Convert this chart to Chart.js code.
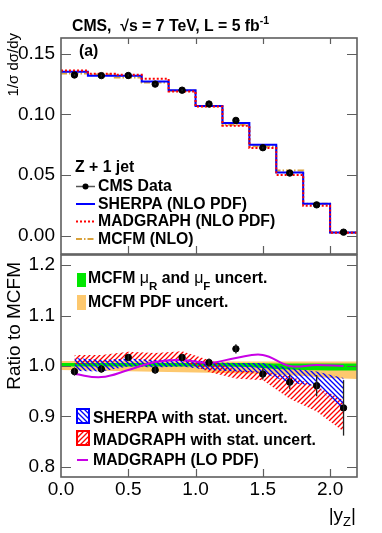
<!DOCTYPE html>
<html>
<head>
<meta charset="utf-8">
<script src="https://cdn.jsdelivr.net/npm/chart.js@4.4.1/dist/chart.umd.min.js"></script>
<style>
html, body { margin: 0; padding: 0; background: #fff; }
#wrap { position: relative; width: 382px; height: 533px; }
canvas { position: absolute; left: 0; }
#top { top: 0; }
#bot { top: 250px; }
</style>
</head>
<body>
<div id="wrap">
  <canvas id="top" width="382" height="260"></canvas>
  <canvas id="bot" width="382" height="283"></canvas>
</div>
<script>
// bins in |y_Z|
const binEdges = [0, 0.2, 0.4, 0.6, 0.8, 1.0, 1.2, 1.4, 1.6, 1.8, 2.0, 2.2];
const binCenters = [0.1, 0.3, 0.5, 0.7, 0.9, 1.1, 1.3, 1.5, 1.7, 1.9, 2.1];

// top panel: 1/sigma dsigma/dy
const cmsData  = [0.1325, 0.1320, 0.1321, 0.1250, 0.1200, 0.1086, 0.0951, 0.0726, 0.0517, 0.0255, 0.0030];
const cmsErr   = [0.0008, 0.0008, 0.0008, 0.0008, 0.0008, 0.0008, 0.0008, 0.0008, 0.0007, 0.0005, 0.0002];
const sherpa   = [0.1352, 0.1319, 0.1319, 0.1272, 0.1200, 0.1070, 0.0930, 0.0751, 0.0522, 0.0264, 0.0028];
const madgraph = [0.1362, 0.1335, 0.1327, 0.1294, 0.1190, 0.1065, 0.0907, 0.0723, 0.0502, 0.0247, 0.0026];
const mcfm     = [0.1338, 0.1330, 0.1305, 0.1264, 0.1195, 0.1068, 0.0915, 0.0737, 0.0539, 0.0264, 0.0027];
const topTicks = [0.00, 0.05, 0.10, 0.15];

// bottom panel: ratio to MCFM
const ratioData = [0.989, 0.994, 1.017, 0.992, 1.017, 1.007, 1.034, 0.984, 0.968, 0.961, 0.917];
const ratioErr  = [0.008, 0.007, 0.007, 0.007, 0.007, 0.008, 0.009, 0.011, 0.014, 0.021, 0.055];
const sherpaHi  = [1.016, 1.012, 1.015, 1.012, 1.015, 1.008, 1.006, 1.006, 0.996, 0.989, 0.976];
const sherpaLo  = [0.990, 0.989, 0.999, 0.997, 0.999, 0.992, 0.989, 0.986, 0.967, 0.960, 0.910];
const madHi     = [1.022, 1.022, 1.028, 1.026, 1.029, 1.012, 0.992, 0.988, 0.980, 0.960, 0.932];
const madLo     = [1.004, 1.006, 1.012, 1.009, 1.010, 0.988, 0.975, 0.972, 0.935, 0.910, 0.870];
const madLO     = [0.984, 0.978, 0.992, 1.008, 1.012, 1.006, 1.016, 1.022, 1.000, 1.002, 1.000];
const scaleHi   = [1.006, 1.006, 1.006, 1.006, 1.006, 1.006, 1.006, 1.006, 1.005, 1.005, 1.005, 1.005];
const scaleLo   = [0.999, 0.999, 0.999, 0.999, 0.999, 0.999, 0.999, 0.998, 0.994, 0.992, 0.991, 0.991];
const pdfHi     = [1.010, 1.010, 1.010, 1.010, 1.009, 1.009, 1.009, 1.009, 1.009, 1.009, 1.009, 1.009];
const pdfLo     = [0.992, 0.991, 0.990, 0.989, 0.988, 0.987, 0.986, 0.985, 0.983, 0.980, 0.976, 0.974];
const ratioTicks = [0.8, 0.9, 1.0, 1.1, 1.2];
const xTicks = [0, 0.5, 1.0, 1.5, 2.0];

const FONT = '"Liberation Sans", Arial, Helvetica, sans-serif';
const B15 = 'bold 15.8px ' + FONT;
const C_SHERPA = '#0000ff', C_MAD = '#ff0000', C_MCFM = '#d9a13b', C_LO = '#c800e6';
const C_GREEN = '#00e600', C_ORANGE = '#fdc86e';

function hatch(color, dir) {
  const s = 5;
  const c = document.createElement('canvas');
  c.width = s; c.height = s;
  const g = c.getContext('2d');
  g.strokeStyle = color; g.lineWidth = 1.3;
  g.beginPath();
  if (dir > 0) {
    g.moveTo(0, s); g.lineTo(s, 0);
    g.moveTo(-1, 1); g.lineTo(1, -1);
    g.moveTo(s - 1, s + 1); g.lineTo(s + 1, s - 1);
  } else {
    g.moveTo(0, 0); g.lineTo(s, s);
    g.moveTo(-1, s - 1); g.lineTo(1, s + 1);
    g.moveTo(s - 1, -1); g.lineTo(s + 1, 1);
  }
  g.stroke();
  return g.createPattern(c, 'repeat');
}
const blueHatch = hatch(C_SHERPA, -1);
const redHatch = hatch(C_MAD, 1);

function pts(xs, vals) { return vals.map((v, i) => ({x: xs[i], y: v})); }
function stepPts(vals) {
  const p = pts(binEdges, vals);
  p.push({x: binEdges[vals.length], y: vals[vals.length - 1]});
  return p;
}
function stepLine(vals, color, dash, order) {
  return {data: stepPts(vals), borderColor: color, borderWidth: 2, borderDash: dash,
          pointRadius: 0, fill: false, stepped: 'before', order: order};
}
function band(xs, hi, lo, bg, order) {
  return [
    {data: pts(xs, hi), borderColor: 'rgba(0,0,0,0)', borderWidth: 0, pointRadius: 0,
     backgroundColor: bg, fill: '+1', tension: 0, order: order},
    {data: pts(xs, lo), borderColor: 'rgba(0,0,0,0)', borderWidth: 0, pointRadius: 0,
     fill: false, tension: 0, order: order}
  ];
}

function rich(ctx, parts, x, y, align) {
  let w = 0;
  parts.forEach(p => { ctx.font = p.f; w += ctx.measureText(p.t).width; });
  let cx = align === 'right' ? x - w : x;
  ctx.textAlign = 'left'; ctx.textBaseline = 'alphabetic'; ctx.fillStyle = '#000';
  parts.forEach(p => {
    ctx.font = p.f;
    ctx.fillText(p.t, cx, y + (p.dy || 0));
    cx += ctx.measureText(p.t).width;
  });
}
function rotText(ctx, s, font, x, yEnd) {
  ctx.save();
  ctx.translate(x, yEnd);
  ctx.rotate(-Math.PI / 2);
  ctx.font = font; ctx.fillStyle = '#000';
  ctx.textAlign = 'right'; ctx.textBaseline = 'alphabetic';
  ctx.fillText(s, 0, 0);
  ctx.restore();
}

// ROOT-like frame, inward ticks, error bars, legend and labels
const rootFrame = {
  id: 'rootFrame',
  afterDatasetsDraw(chart, args, o) {
    const ctx = chart.ctx, a = chart.chartArea, x = chart.scales.x, y = chart.scales.y;
    ctx.save();
    // error bars on data
    ctx.strokeStyle = '#222'; ctx.lineWidth = 1.3;
    o.errX.forEach((xv, i) => {
      const px = x.getPixelForValue(xv);
      ctx.beginPath();
      ctx.moveTo(px, y.getPixelForValue(o.errV[i] + o.errE[i]));
      ctx.lineTo(px, y.getPixelForValue(o.errV[i] - o.errE[i]));
      ctx.stroke();
    });
    // frame
    ctx.strokeStyle = '#5e5e5e'; ctx.lineWidth = 1.6;
    ctx.strokeRect(a.left, a.top, a.right - a.left, a.bottom - a.top);
    ctx.lineWidth = 1.2;
    ctx.beginPath();
    xTicks.forEach(v => {
      const px = Math.round(x.getPixelForValue(v)) + 0.5;
      if (v <= x.min || v >= x.max) return;
      ctx.moveTo(px, a.bottom); ctx.lineTo(px, a.bottom - 8);
      if (o.topTicks) { ctx.moveTo(px, a.top); ctx.lineTo(px, a.top + 6); }
    });
    o.yTicks.forEach(v => {
      const py = Math.round(y.getPixelForValue(v)) + 0.5;
      ctx.moveTo(a.left, py); ctx.lineTo(a.left + 10, py);
      ctx.moveTo(a.right, py); ctx.lineTo(a.right - 10, py);
    });
    ctx.stroke();
    ctx.restore();
  },
  afterDraw(chart, args, o) {
    const ctx = chart.ctx;
    ctx.save();
    ctx.translate(0, -o.offsetY);
    o.draw(ctx);
    ctx.restore();
  }
};

function yScale(min, max, ticks, digits) {
  return {
    type: 'linear', min: min, max: max,
    afterBuildTicks: s => { s.ticks = ticks.map(v => ({value: v})); },
    afterFit: s => { s.width = 61; s.paddingTop = 0; s.paddingBottom = 0; },
    grid: {display: false, drawTicks: false},
    border: {display: false},
    ticks: {autoSkip: false, padding: 6, color: '#000', font: {family: FONT, size: 19},
            callback: v => Number(v).toFixed(digits)}
  };
}

const common = {
  responsive: false, animation: false, events: [],
  plugins: {legend: {display: false}, tooltip: {enabled: false}}
};

// top panel
new Chart(document.getElementById('top'), {
  type: 'line',
  data: {datasets: [
    {data: pts(binCenters, cmsData), showLine: false, pointRadius: 3.2,
     pointBackgroundColor: '#000', pointBorderColor: '#000', order: 1},
    stepLine(madgraph, C_MAD, [2, 2], 2),
    stepLine(sherpa, C_SHERPA, [], 3),
    stepLine(mcfm, C_MCFM, [6, 2, 1.5, 2], 4)
  ]},
  options: Object.assign({}, common, {
    layout: {padding: {left: 0, top: 38, right: 25, bottom: 6}},
    scales: {
      x: {type: 'linear', min: 0, max: 2.2, display: false,
          afterFit: s => { s.paddingLeft = 0; s.paddingRight = 0; }},
      y: yScale(-0.015, 0.163, topTicks, 2)
    },
    plugins: Object.assign({}, common.plugins, {
      rootFrame: {
        errX: binCenters, errV: cmsData, errE: cmsErr, yTicks: topTicks, topTicks: true, offsetY: 0,
        draw: ctx => {
          rich(ctx, [{t: 'CMS,  \u221As = 7 TeV, L = 5 fb', f: B15}, {t: '-1', f: 'bold 10.5px ' + FONT, dy: -7}], 72, 31);
          rich(ctx, [{t: '(a)', f: B15}], 79, 56);
          rotText(ctx, '1/\u03C3 d\u03C3/dy', '15px ' + FONT, 18, 33);
          rich(ctx, [{t: 'Z + 1 jet', f: B15}], 75, 172);
          const rows = [['CMS Data', 191], ['SHERPA (NLO PDF)', 208.5], ['MADGRAPH (NLO PDF)', 226], ['MCFM (NLO)', 243.5]];
          rows.forEach(r => rich(ctx, [{t: r[0], f: B15}], 98, r[1]));
          const ly = r => r[1] - 4.5;
          ctx.strokeStyle = '#555'; ctx.lineWidth = 1.5;
          ctx.beginPath(); ctx.moveTo(76, ly(rows[0])); ctx.lineTo(95, ly(rows[0])); ctx.stroke();
          ctx.fillStyle = '#000'; ctx.beginPath(); ctx.arc(85.5, ly(rows[0]), 3, 0, 2 * Math.PI); ctx.fill();
          ctx.lineWidth = 2;
          [[C_SHERPA, []], [C_MAD, [2, 2]], [C_MCFM, [6, 2, 1.5, 2]]].forEach((s, i) => {
            ctx.strokeStyle = s[0]; ctx.setLineDash(s[1]);
            ctx.beginPath(); ctx.moveTo(76, ly(rows[i + 1])); ctx.lineTo(95, ly(rows[i + 1])); ctx.stroke();
          });
          ctx.setLineDash([]);
        }
      }
    })
  }),
  plugins: [rootFrame]
});

// bottom panel
new Chart(document.getElementById('bot'), {
  type: 'line',
  data: {datasets: [
    {data: pts(binCenters, ratioData), showLine: false, pointRadius: 3.2,
     pointBackgroundColor: '#000', pointBorderColor: '#000', order: 1},
    {data: pts(binCenters, madLO), borderColor: C_LO, borderWidth: 2, pointRadius: 0,
     fill: false, tension: 0.4, order: 2},
    ...band(binCenters, sherpaHi, sherpaLo, blueHatch, 3),
    ...band(binCenters, madHi, madLo, redHatch, 4),
    ...band(binEdges, scaleHi, scaleLo, C_GREEN, 5),
    ...band(binEdges, pdfHi, pdfLo, C_ORANGE, 6)
  ]},
  options: Object.assign({}, common, {
    layout: {padding: {left: 0, top: 4, right: 25, bottom: 0}},
    scales: {
      x: {type: 'linear', min: 0, max: 2.2,
          afterBuildTicks: s => { s.ticks = xTicks.map(v => ({value: v})); },
          afterFit: s => { s.height = 56; s.paddingLeft = 0; s.paddingRight = 0; },
          grid: {display: false, drawTicks: false},
          border: {display: false},
          ticks: {autoSkip: false, maxRotation: 0, padding: 1, color: '#000',
                  font: {family: FONT, size: 19}, callback: v => Number(v).toFixed(1)}},
      y: yScale(0.78, 1.22, ratioTicks, 1)
    },
    plugins: Object.assign({}, common.plugins, {
      rootFrame: {
        errX: binCenters, errV: ratioData, errE: ratioErr, yTicks: ratioTicks, topTicks: false, offsetY: 250,
        draw: ctx => {
          rotText(ctx, 'Ratio to MCFM', '19px ' + FONT, 20, 262);
          rich(ctx, [{t: '|y', f: '19px ' + FONT}, {t: 'Z', f: '13px ' + FONT, dy: 5}, {t: '|', f: '19px ' + FONT}], 356, 521, 'right');
          const mu = '16px ' + FONT, sub = 'bold 11.5px ' + FONT;
          ctx.fillStyle = C_GREEN; ctx.fillRect(77, 273, 9, 14);
          rich(ctx, [{t: 'MCFM ', f: B15}, {t: '\u03BC', f: mu}, {t: 'R', f: sub, dy: 7},
                     {t: ' and ', f: B15}, {t: '\u03BC', f: mu}, {t: 'F', f: sub, dy: 7},
                     {t: ' uncert.', f: B15}], 88, 283);
          ctx.fillStyle = C_ORANGE; ctx.fillRect(77, 295, 9, 15);
          rich(ctx, [{t: 'MCFM PDF uncert.', f: B15}], 88, 307);
          // hatched boxes
          [[blueHatch, C_SHERPA, 409, 'SHERPA with stat. uncert.', 423],
           [redHatch, C_MAD, 431, 'MADGRAPH with stat. uncert.', 445]].forEach(b => {
            ctx.fillStyle = b[0]; ctx.fillRect(77, b[2], 12, 14);
            ctx.strokeStyle = b[1]; ctx.lineWidth = 2; ctx.strokeRect(77, b[2], 12, 14);
            rich(ctx, [{t: b[3], f: B15}], 93, b[4]);
          });
          ctx.strokeStyle = C_LO; ctx.lineWidth = 2;
          ctx.beginPath(); ctx.moveTo(77, 460); ctx.lineTo(88, 460); ctx.stroke();
          rich(ctx, [{t: 'MADGRAPH (LO PDF)', f: B15}], 93, 465);
        }
      }
    })
  }),
  plugins: [rootFrame]
});
</script>
</body>
</html>
